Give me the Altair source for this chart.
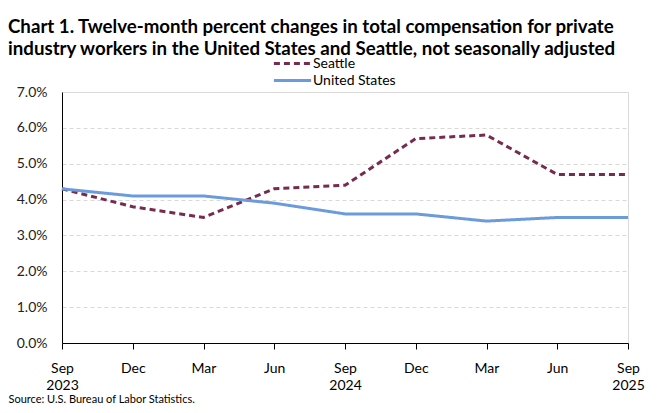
import json

import altair as alt
import pandas as pd

months = ["Sep", "Dec", "Mar", "Jun", "Sep", "Dec", "Mar", "Jun", "Sep"]
years = ["2023", "", "", "", "2024", "", "", "", "2025"]
seattle = [4.3, 3.8, 3.5, 4.3, 4.4, 5.7, 5.8, 4.7, 4.7]
united_states = [4.3, 4.1, 4.1, 3.9, 3.6, 3.6, 3.4, 3.5, 3.5]
series = ["Seattle", "United States"]
colors = ["#772B4E", "#6C9BDC"]

rows = []
for name, vals in zip(series, [seattle, united_states]):
    for i, v in enumerate(vals):
        rows.append({"i": i, "series": name, "value": v / 100})
df = pd.DataFrame(rows)

tick_labels = [[m, y] if y else [m] for m, y in zip(months, years)]
label_expr = json.dumps(tick_labels) + "[datum.value]"

font = "Lato"

# wide flat path so the legend rows stay short
legend = alt.Legend(
    title=None,
    orient="none",
    legendX=223,
    legendY=-36,
    symbolType="M-3.1,0H3.1",
    symbolSize=144,
    symbolStrokeWidth=3,
    labelFontSize=14,
    labelFontWeight="normal",
    labelColor="black",
    labelOffset=13,
    rowPadding=2,
)

chart = alt.Chart(df).mark_line(strokeWidth=3).encode(
    x=alt.X(
        "i:Q",
        scale=alt.Scale(domain=[0, 8], nice=False, zero=False),
        axis=alt.Axis(
            values=list(range(9)),
            labelExpr=label_expr,
            labelFlush=False,
            grid=False,
            domainColor="black",
            tickColor="black",
            tickSize=6,
            labelFontSize=14,
            labelFontWeight="normal",
            labelColor="black",
            labelPadding=12,
            labelLineHeight=17,
            title="Source: U.S. Bureau of Labor Statistics.",
            titleFontSize=11,
            titleFontWeight="normal",
            titleColor="black",
            titleAnchor="start",
            titleAlign="left",
            titleBaseline="bottom",
            titleX=-54,
            titleY=61,
        ),
    ),
    y=alt.Y(
        "value:Q",
        scale=alt.Scale(domain=[0, 0.07], nice=False),
        axis=alt.Axis(
            values=[i / 100 for i in range(8)],
            format=".1%",
            title=None,
            domainColor="black",
            ticks=False,
            grid=True,
            gridColor="#d9d9d9",
            gridDash=[4, 3],
            labelFontSize=14,
            labelFontWeight="normal",
            labelColor="#222222",
            labelPadding=15,
        ),
    ),
    color=alt.Color(
        "series:N",
        scale=alt.Scale(domain=series, range=colors),
        legend=legend,
    ),
    strokeDash=alt.StrokeDash(
        "series:N",
        scale=alt.Scale(domain=series, range=[[6, 4], [1, 0]]),
        legend=legend,
    ),
).properties(
    width=566,
    height=251,
    autosize=alt.AutoSizeParams(type="none"),
    padding={"left": 54, "top": 84, "right": 24, "bottom": 62},
    title=alt.Title(
        ["Chart 1. Twelve-month percent changes in total compensation for private",
         "industry workers in the United States and Seattle, not seasonally adjusted"],
        anchor="start",
        frame="group",
        dx=-54,
        offset=-3,
        fontSize=18.7,
        fontWeight="bold",
        color="black",
        lineHeight=22,
    ),
).configure(
    font=font,
).configure_view(
    stroke="#d9d9d9",
)

chart.save("out.html", embed_options={"renderer": "svg", "actions": False})
